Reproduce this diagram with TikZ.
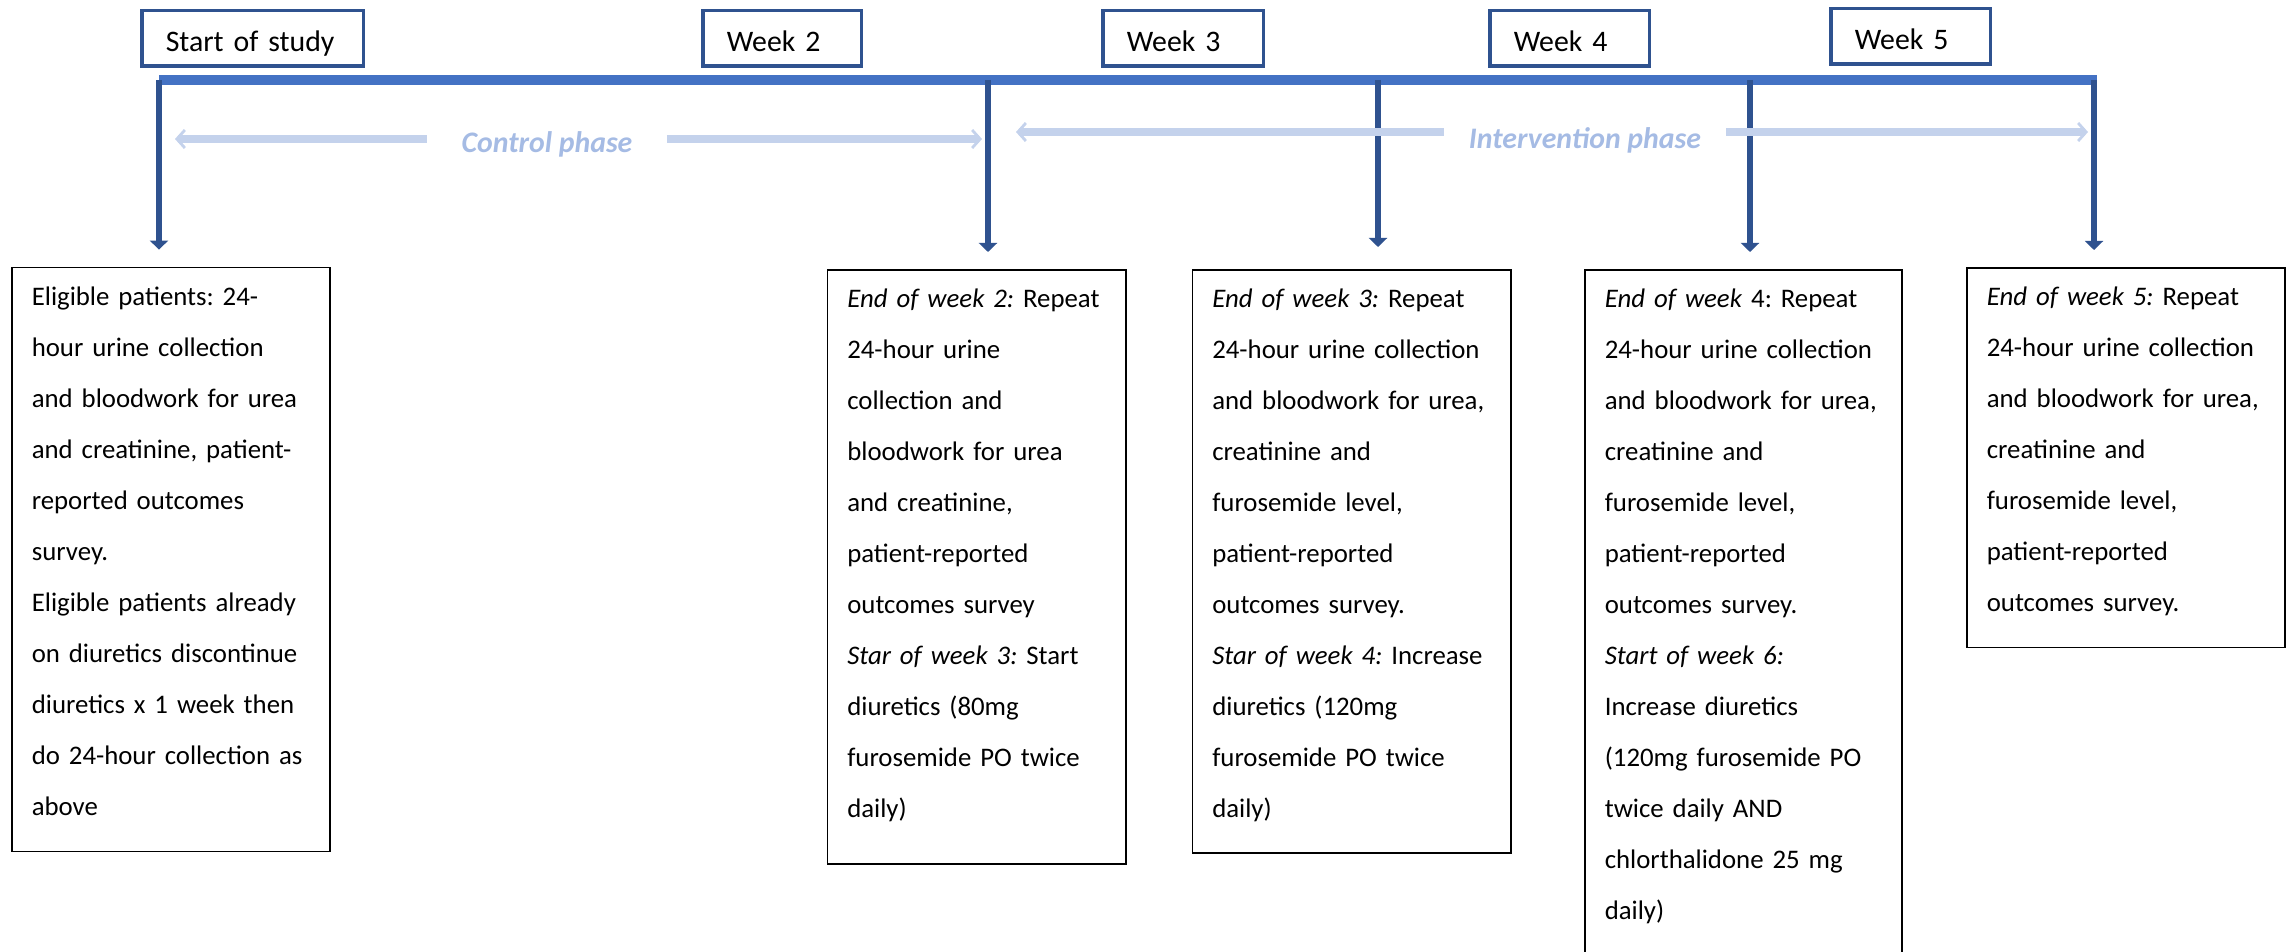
\documentclass[tikz,border=0pt]{standalone}
\usepackage{fontspec}
\setmainfont{Carlito}
\usetikzlibrary{positioning,arrows.meta,calc}
\tikzset{>=latex}
\frenchspacing
\definecolor{barblue}{RGB}{68,114,196}
\definecolor{myblue}{RGB}{47,82,143}
\definecolor{phaseblue}{RGB}{196,210,236}
\definecolor{phasetext}{RGB}{165,187,228}
\tikzstyle{week box}=[draw=myblue,line width=1.75pt,anchor=north west,align=left,minimum height=27.75pt,inner xsep=12pt,text height=14pt,text depth=0.5pt,font=\fontsize{14.9}{18}\selectfont]
\tikzstyle{note box}=[draw=black,line width=0.8pt,anchor=north west,align=left,inner xsep=10pt,inner ysep=0pt,text height=19pt,font=\fontsize{13.4}{25.5}\selectfont]
\tikzstyle{phase label}=[text=phasetext,font=\fontsize{14.9}{18}\selectfont\bfseries\itshape]
\tikzstyle{connect arrow}=[-{Triangle[length=4.5pt,width=9pt]},line width=3pt,myblue,shorten >=8.5pt]
\tikzstyle{phase arrow}=[draw=phaseblue,line width=3.6pt]

\begin{document}
\begin{tikzpicture}[x=0.5pt,y=-0.5pt]
\useasboundingbox (0,0) rectangle (2293,952);

% Weeks
\node [week box,text width=86.75pt] (start) at (140,9) {Start of study};
\node [week box,text width=55.25pt] (wk2) at (701,9) {Week 2};
\node [week box,text width=56.25pt] (wk3) at (1101,9) {Week 3};
\node [week box,text width=55.75pt] (wk4) at (1488,9) {Week 4};
\node [week box,text width=55.75pt] (wk5) at (1829,7) {Week 5};

% Time line
\coordinate (barL) at (159,80);
\coordinate (barR) at (2097,80);
\coordinate (t1) at (159,80);
\coordinate (t2) at (988,80);
\coordinate (t3) at (1378,80);
\coordinate (t4) at (1750,80);
\coordinate (t5) at (2094,80);
\draw [barblue,line width=5pt] (barL) -- (barR);

% Phases
\node [phase label,inner xsep=17pt] (ctrl) at (547,144) {Control phase};
\node [phase label,inner xsep=12.5pt] (interv) at (1585,140) {Intervention phase};
\coordinate (cL) at (175,139);
\coordinate (cR) at (982,139);
\coordinate (iL) at (1016,132);
\coordinate (iR) at (2088,132);

% Notes
\node [note box,text width=139.2pt,text depth=273.1pt] (b1) at (11,266.6)
{Eligible patients: 24-\\hour urine collection\\and bloodwork for urea\\and creatinine, patient-\\reported outcomes\\survey.\\Eligible patients already\\on diuretics discontinue\\diuretics x 1 week then\\do 24-hour collection as\\above};
\node [note box,text width=129.2pt,text depth=278.1pt] (b2) at (826.5,269)
{\textit{End of week 2:} Repeat\\24-hour urine\\collection and\\bloodwork for urea\\and creatinine,\\patient-reported\\outcomes survey\\\textit{Star of week 3:} Start\\diuretics (80mg\\furosemide PO twice\\daily)};
\node [note box,text width=139.2pt,text depth=272.6pt] (b3) at (1191.5,269)
{\textit{End of week 3:} Repeat\\24-hour urine collection\\and bloodwork for urea,\\creatinine and\\furosemide level,\\patient-reported\\outcomes survey.\\\textit{Star of week 4:} Increase\\diuretics (120mg\\furosemide PO twice\\daily)};
\node [note box,text width=138.7pt,text depth=380pt] (b4) at (1584,269)
{\textit{End of week} 4: Repeat\\24-hour urine collection\\and bloodwork for urea,\\creatinine and\\furosemide level,\\patient-reported\\outcomes survey.\\\textit{Start of week 6:}\\Increase diuretics\\(120mg furosemide PO\\twice daily AND\\chlorthalidone 25 mg\\daily)};
\node [note box,text width=139.2pt,text depth=170.85pt] (b5) at (1966,267)
{\textit{End of week 5:} Repeat\\24-hour urine collection\\and bloodwork for urea,\\creatinine and\\furosemide level,\\patient-reported\\outcomes survey.};

\begin{scope} [connect arrow]
    \draw (t1) -- (t1 |- b1.north);
    \draw (t2) -- (t2 |- b2.north);
    \draw [shorten >=11pt] (t3) -- (t3 |- b3.north);
    \draw (t4) -- (t4 |- b4.north);
    \draw (t5) -- (t5 |- b5.north);
\end{scope}

\begin{scope} [phase arrow]
    \draw [{Straight Barb[length=4pt,width=9pt,line width=1.4pt]}-] (cL) -- (ctrl.west |- cL);
    \draw [-{Straight Barb[length=4pt,width=9pt,line width=1.4pt]}] (ctrl.east |- cR) -- (cR);
    \draw [{Straight Barb[length=4pt,width=9pt,line width=1.4pt]}-] (iL) -- (interv.west |- iL);
    \draw [-{Straight Barb[length=4pt,width=9pt,line width=1.4pt]}] (interv.east |- iR) -- (iR);
\end{scope}

\end{tikzpicture}
\end{document}
